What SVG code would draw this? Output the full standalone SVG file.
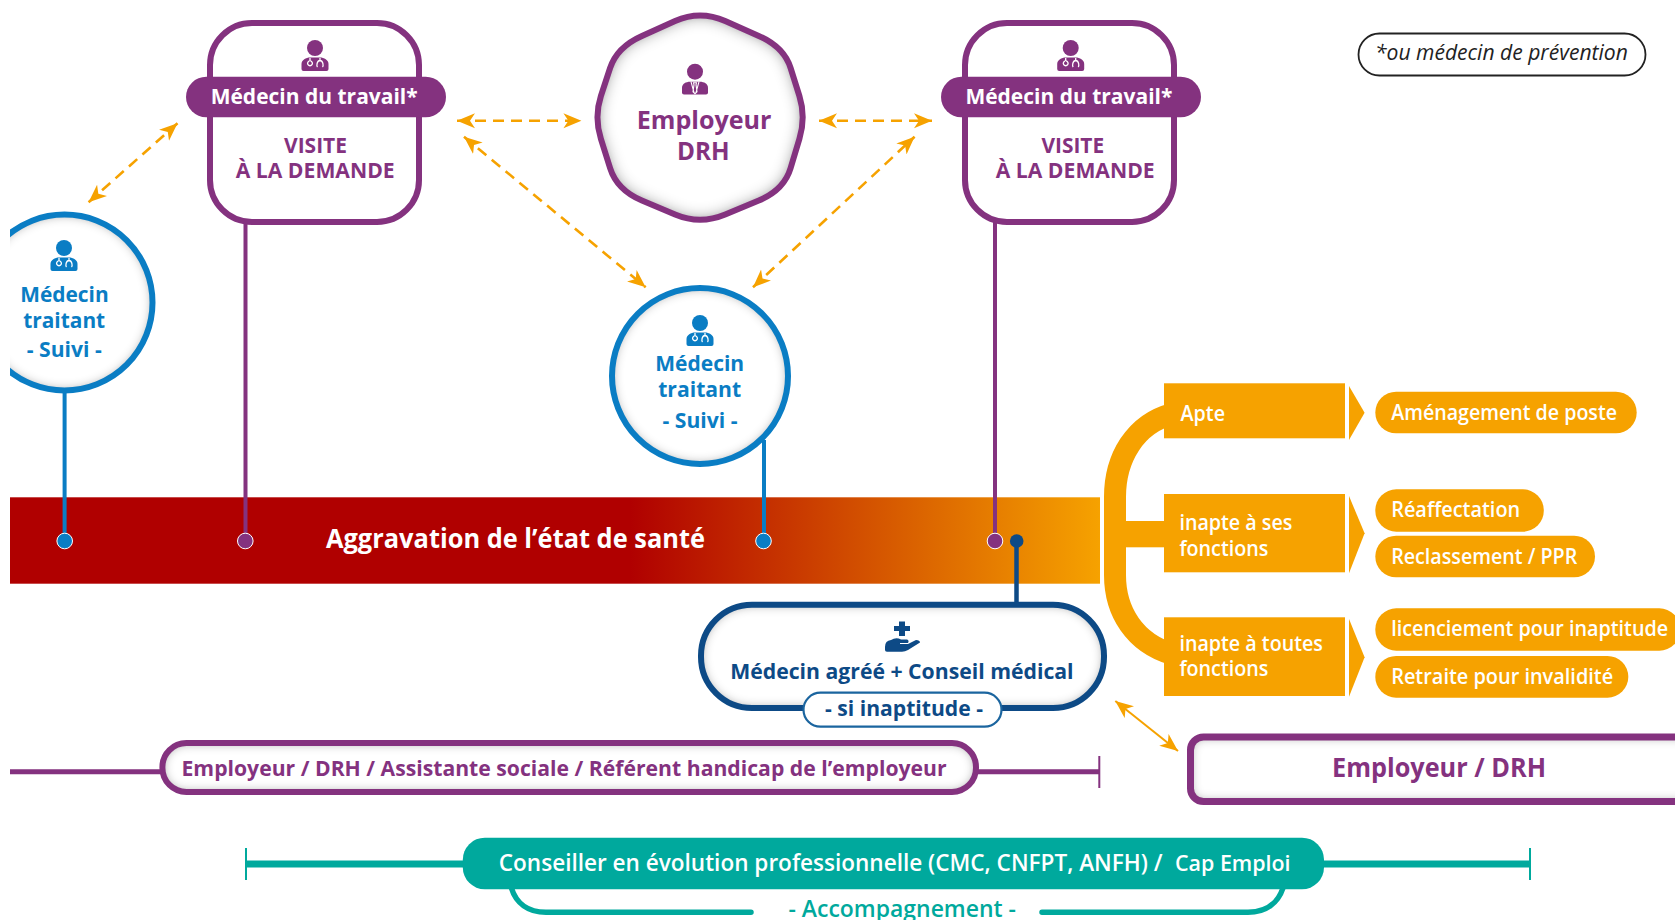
<svg xmlns="http://www.w3.org/2000/svg" xmlns:xlink="http://www.w3.org/1999/xlink" width="1675" height="920" viewBox="0 0 1675 920">
<style>
text{font-family:"Open Sans","Noto Sans","Liberation Sans",sans-serif;font-weight:700}
.w{fill:#fff}.p{fill:#84327f}.b{fill:#0a7dc4}.n{fill:#0d4a86}.t{fill:#00a99d}
.s{font-weight:600}
.fillw{fill:#fff;stroke:none;filter:url(#inner)}
.fillx{fill:#fff;stroke:none;filter:url(#inner2)}
.op{fill:none;stroke:#84327f;stroke-width:6}
.ob{fill:none;stroke:#0a7dc4;stroke-width:6}
.on{fill:none;stroke:#0d4a86;stroke-width:6}
.orange{fill:#f6a200}
.dash{fill:none;stroke:#f6a200;stroke-width:2.6;stroke-dasharray:11 7;marker-start:url(#ah);marker-end:url(#ah)}
.solid{fill:none;stroke:#f6a200;stroke-width:2;marker-start:url(#ah);marker-end:url(#ah)}
.dot{stroke:#fff;stroke-width:1}
</style>
<defs>
<marker id="ah" markerUnits="userSpaceOnUse" markerWidth="19" markerHeight="16" refX="18" refY="8" orient="auto-start-reverse">
<path d="M18,8 L0,0.5 L5,8 L0,15.5 Z" fill="#f6a200"/>
</marker>
<filter id="inner" x="-10%" y="-20%" width="120%" height="140%">
<feFlood flood-color="#333" flood-opacity=".9" result="f"/>
<feComposite in="f" in2="SourceAlpha" operator="out" result="o"/>
<feGaussianBlur in="o" stdDeviation="5.5" result="bl"/>
<feComposite in="bl" in2="SourceAlpha" operator="in" result="sh"/>
<feMerge><feMergeNode in="SourceGraphic"/><feMergeNode in="sh"/></feMerge>
</filter>
<filter id="inner2" x="-15%" y="-15%" width="130%" height="130%">
<feFlood flood-color="#222" flood-opacity="1" result="f"/>
<feComposite in="f" in2="SourceAlpha" operator="out" result="o"/>
<feGaussianBlur in="o" stdDeviation="8" result="bl"/>
<feComposite in="bl" in2="SourceAlpha" operator="in" result="sh"/>
<feMerge><feMergeNode in="SourceGraphic"/><feMergeNode in="sh"/></feMerge>
</filter>
<linearGradient id="bar" gradientUnits="userSpaceOnUse" x1="630" y1="0" x2="1100" y2="0">
<stop offset="0" stop-color="#b00000"/><stop offset="1" stop-color="#f6a200"/>
</linearGradient>
<clipPath id="cl"><rect x="10" y="180" width="200" height="260"/></clipPath>
<symbol id="doc" overflow="visible" viewBox="-14 -8 28 32" width="28" height="32">
<circle cx="0" cy="0" r="8"/>
<path d="M-13.5,21 V16 C-13.5,12 -9,9.5 -5,9.5 L5,9.5 C9,9.5 13.5,12 13.5,16 V21 Q13.5,23 11.5,23 H-11.5 Q-13.5,23 -13.5,21 Z"/>
<path d="M-5,10 V13 M-5.5,13 a2.4,2.4 0 1 0 1,0 M5,10 V12.5 C1.5,13 1.5,18 2.5,19 M5,12.5 C8.5,13 8.5,18 7.5,19" fill="none" stroke="#fff" stroke-width="1.3"/>
</symbol>
<symbol id="boss" overflow="visible" viewBox="-14 -8 28 32" width="28" height="32">
<circle cx="0" cy="0" r="8"/>
<path d="M-13,21 V16 C-13,12 -9,10 -5,10 L5,10 C9,10 13,12 13,16 V21 Q13,22.7 11,22.7 H-11 Q-13,22.7 -13,21 Z"/>
<path d="M-4,10 L-1,21 M4,10 L1,21 M-1.5,11 H1.5 L1,13 L2,20 L0,22 L-2,20 L-1,13 Z" fill="none" stroke="#fff" stroke-width="1.1"/>
</symbol>
</defs>

<rect id="sante-bar" x="10" y="497.3" width="1090" height="86.4" fill="url(#bar)"/>

<g id="connectors">
<path class="dash" d="M88.6,202.3 L177.5,123.3"/>
<path class="dash" d="M457,120.7 H581.4"/>
<path class="dash" d="M464,136.7 L645.7,287.3"/>
<path class="dash" d="M819,120.7 H932"/>
<path class="dash" d="M753,287.3 L914.6,136.7"/>
<path class="solid" d="M1115.3,701 L1178,751"/>
<path d="M64.6,390 V541" stroke="#0a7dc4" stroke-width="4" fill="none"/>
<path d="M245.5,222 V541" stroke="#84327f" stroke-width="4" fill="none"/>
<path d="M764,440 V541" stroke="#0a7dc4" stroke-width="4" fill="none"/>
<path d="M995,222 V541" stroke="#84327f" stroke-width="4" fill="none"/>
<path d="M1016.5,541 V606" stroke="#0d4a86" stroke-width="4.5" fill="none"/>
<circle class="dot b" cx="64.7" cy="541" r="7.8"/>
<circle class="dot p" cx="245.3" cy="541" r="7.8"/>
<circle class="dot b" cx="763.5" cy="541" r="7.8"/>
<circle class="dot p" cx="995" cy="541" r="7.8"/>
<circle cx="1016.7" cy="541" r="6.8" class="n"/>
<path d="M1172,414 C1135,424 1115,458 1115,497 V575 C1115,612 1135,643 1172,654" fill="none" stroke="#f6a200" stroke-width="22"/>
<rect x="1115" y="521" width="50" height="26.3" class="orange"/>
<path d="M10,771.7 H162 M977,771.7 H1099" stroke="#84327f" stroke-width="5" fill="none"/>
<path d="M1099.3,756 V788" stroke="#84327f" stroke-width="2" fill="none"/>
<path d="M246,864 H464 M1323,864 H1530" stroke="#00a99d" stroke-width="7" fill="none"/>
<path d="M246,848 V880 M1530,848 V880" stroke="#00a99d" stroke-width="2" fill="none"/>
<path d="M511.4,888 C516,903 528,912.3 546,912.3 H751 M1283,888 C1278,903 1266,912.3 1248,912.3 H1042" stroke="#00a99d" stroke-width="5.5" stroke-linecap="round" fill="none"/>
</g>

<g id="medecin-travail-gauche">
<rect x="210" y="23" width="209" height="199" rx="42" class="op" style="fill:#fff"/>
<rect x="186" y="76.7" width="260" height="40.6" rx="20.3" class="p"/>
<use href="#doc" x="301" y="40" class="p"/>
<text class="w" x="210.7" y="103.5" font-size="21" textLength="207" lengthAdjust="spacingAndGlyphs">Médecin du travail*</text>
<text class="p" x="284" y="153" font-size="21.5" textLength="63" lengthAdjust="spacingAndGlyphs">VISITE</text>
<text class="p" x="235.7" y="178" font-size="21.5" textLength="159" lengthAdjust="spacingAndGlyphs">À LA DEMANDE</text>
</g>

<g id="medecin-travail-droite">
<rect x="965" y="23" width="209" height="199" rx="42" class="op" style="fill:#fff"/>
<rect x="941" y="76.7" width="260" height="40.6" rx="20.3" class="p"/>
<use href="#doc" x="1056.7" y="40" class="p"/>
<text class="w" x="965.4" y="103.5" font-size="21" textLength="207" lengthAdjust="spacingAndGlyphs">Médecin du travail*</text>
<text class="p" x="1041.4" y="153" font-size="21.5" textLength="62.7" lengthAdjust="spacingAndGlyphs">VISITE</text>
<text class="p" x="995.7" y="178" font-size="21.5" textLength="159" lengthAdjust="spacingAndGlyphs">À LA DEMANDE</text>
</g>

<g id="employeur-drh">
<path class="fillx" d="M675.1,21.1 Q700,10 725.2,21.1 L758.8,35.9 Q784,47 790.6,68 L799.4,96 Q806,117 799.4,138.9 L790.6,168.1 Q784,190 758.8,200.5 L725.2,214.5 Q700,225 675.1,214.5 L641.9,200.5 Q617,190 610.1,168.1 L600.9,138.9 Q594,117 600.9,96 L610.1,68 Q617,47 641.9,35.9 Z"/>
<path class="op" d="M675.1,21.1 Q700,10 725.2,21.1 L758.8,35.9 Q784,47 790.6,68 L799.4,96 Q806,117 799.4,138.9 L790.6,168.1 Q784,190 758.8,200.5 L725.2,214.5 Q700,225 675.1,214.5 L641.9,200.5 Q617,190 610.1,168.1 L600.9,138.9 Q594,117 600.9,96 L610.1,68 Q617,47 641.9,35.9 Z"/>
<use href="#boss" x="681" y="63.7" class="p"/>
<text class="p" x="636.8" y="129" font-size="25" textLength="134.6" lengthAdjust="spacingAndGlyphs">Employeur</text>
<text class="p" x="677" y="159.5" font-size="25" textLength="52.6" lengthAdjust="spacingAndGlyphs">DRH</text>
</g>

<g id="medecin-traitant-gauche" clip-path="url(#cl)">
<circle class="fillw" cx="64.5" cy="302.5" r="88"/>
<circle class="ob" cx="64.5" cy="302.5" r="88"/>
<use href="#doc" x="50" y="240" class="b"/>
<text class="b" x="20.2" y="301.7" font-size="21" textLength="88.5" lengthAdjust="spacingAndGlyphs">Médecin</text>
<text class="b" x="23.2" y="328" font-size="21" textLength="82" lengthAdjust="spacingAndGlyphs">traitant</text>
<text class="b" x="26.8" y="356.7" font-size="21" textLength="75" lengthAdjust="spacingAndGlyphs">- Suivi -</text>
</g>

<g id="medecin-traitant-centre">
<circle class="fillw" cx="700" cy="376" r="88"/>
<circle class="ob" cx="700" cy="376" r="88"/>
<use href="#doc" x="686" y="315" class="b"/>
<text class="b" x="655.2" y="371" font-size="21" textLength="89" lengthAdjust="spacingAndGlyphs">Médecin</text>
<text class="b" x="658.2" y="397" font-size="21" textLength="83" lengthAdjust="spacingAndGlyphs">traitant</text>
<text class="b" x="662.5" y="428.4" font-size="21" textLength="75" lengthAdjust="spacingAndGlyphs">- Suivi -</text>
</g>

<g id="note">
<rect x="1358.5" y="33.5" width="287" height="42" rx="21" fill="#fff" stroke="#222" stroke-width="1.8"/>
<text x="1375" y="60" font-size="21" fill="#222" style="font-style:italic;font-weight:400" textLength="252.8" lengthAdjust="spacingAndGlyphs">*ou médecin de prévention</text>
</g>

<g id="medecin-agree">
<rect class="fillw" x="701" y="604.7" width="403" height="103.3" rx="51"/>
<rect class="on" x="701" y="604.7" width="403" height="103.3" rx="51"/>
<path class="n" d="M899,621.5 H905 V626 H910 V631 H905 V636 H899 V631 H894 V626 H899 Z"/>
<path class="n" d="M885,647 Q885,640.5 891,640 Q896,637 901,639.5 H907 Q909.5,640.5 908,643 H900 L900,644 H908 L916,640 Q920,640 920,642.5 L908,650 Q905,651.7 902,651.7 H887 Q885,651.7 885,650 Z"/>
<text class="n" x="730.2" y="679" font-size="22" textLength="343.4" lengthAdjust="spacingAndGlyphs">Médecin agréé + Conseil médical</text>
<rect x="803.5" y="692.7" width="198" height="34" rx="17" fill="#fff" stroke="#1b659f" stroke-width="2.2"/>
<text class="n" x="825" y="715.5" font-size="22" textLength="158" lengthAdjust="spacingAndGlyphs">- si inaptitude -</text>
</g>

<g id="orientation" class="s">
<rect class="orange" x="1164" y="383.3" width="181" height="55"/>
<path class="orange" d="M1349,386 L1364.6,412.7 L1349,440 Z"/>
<text class="w s" x="1180.6" y="421" font-size="21" textLength="44.4" lengthAdjust="spacingAndGlyphs">Apte</text>
<rect class="orange" x="1164" y="494" width="181" height="78.3"/>
<path class="orange" d="M1349,496 L1364.6,533.3 L1349,573.3 Z"/>
<text class="w s" x="1179.4" y="530" font-size="21" textLength="113" lengthAdjust="spacingAndGlyphs">inapte à ses</text>
<text class="w s" x="1179.4" y="555.6" font-size="21" textLength="89" lengthAdjust="spacingAndGlyphs">fonctions</text>
<rect class="orange" x="1164" y="617.3" width="181" height="78.7"/>
<path class="orange" d="M1349,619 L1364.6,657.3 L1349,696.7 Z"/>
<text class="w s" x="1179.4" y="650.5" font-size="21" textLength="143.5" lengthAdjust="spacingAndGlyphs">inapte à toutes</text>
<text class="w s" x="1179.4" y="675.6" font-size="21" textLength="89" lengthAdjust="spacingAndGlyphs">fonctions</text>
</g>

<g id="amenagement">
<rect class="orange" x="1375.3" y="391.7" width="261.4" height="41.6" rx="20.8"/>
<text class="w s" x="1391.2" y="419.6" font-size="21" textLength="225.8" lengthAdjust="spacingAndGlyphs">Aménagement de poste</text>
</g>
<g id="reaffectation">
<rect class="orange" x="1375.3" y="489.3" width="168.5" height="42.4" rx="21"/>
<text class="w s" x="1391.2" y="517.3" font-size="21" textLength="129" lengthAdjust="spacingAndGlyphs">Réaffectation</text>
</g>
<g id="reclassement">
<rect class="orange" x="1375.3" y="535.7" width="219.7" height="41.6" rx="20.8"/>
<text class="w s" x="1391.2" y="563.5" font-size="21" textLength="186" lengthAdjust="spacingAndGlyphs">Reclassement / PPR</text>
</g>
<g id="licenciement">
<rect class="orange" x="1375.3" y="608.3" width="305" height="42.4" rx="21"/>
<text class="w s" x="1391.2" y="635.6" font-size="21" textLength="277" lengthAdjust="spacingAndGlyphs">licenciement pour inaptitude</text>
</g>
<g id="retraite">
<rect class="orange" x="1375.3" y="656" width="253" height="41.7" rx="20.8"/>
<text class="w s" x="1391.2" y="684" font-size="21" textLength="222" lengthAdjust="spacingAndGlyphs">Retraite pour invalidité</text>
</g>

<g id="employeur-drh-bas">
<rect class="fillw" x="1190.5" y="737" width="520" height="64.5" rx="13"/>
<rect x="1190.5" y="737" width="520" height="64.5" rx="13" fill="none" stroke="#84327f" stroke-width="7"/>
<text class="p" x="1332" y="776.5" font-size="27" textLength="214" lengthAdjust="spacingAndGlyphs">Employeur / DRH</text>
</g>

<g id="acteurs-employeur">
<rect class="fillw" x="162.4" y="743" width="813.6" height="49" rx="24"/>
<rect class="op" x="162.4" y="743" width="813.6" height="49" rx="24"/>
<text class="p" x="181.5" y="776" font-size="21" textLength="765.1" lengthAdjust="spacingAndGlyphs">Employeur / DRH / Assistante sociale / Référent handicap de l’employeur</text>
</g>

<g id="sante-label">
<text class="w" x="326" y="547.7" font-size="26" textLength="379" lengthAdjust="spacingAndGlyphs">Aggravation de l’état de santé</text>
</g>

<g id="conseiller">
<rect x="462.8" y="837.7" width="861.2" height="51.6" rx="22" class="t"/>
<text class="w s" x="498.8" y="870.7" font-size="24" textLength="663.7" lengthAdjust="spacingAndGlyphs">Conseiller en évolution professionnelle (CMC, CNFPT, ANFH) /</text>
<text class="w s" x="1175" y="870.7" font-size="21" textLength="115.6" lengthAdjust="spacingAndGlyphs">Cap Emploi</text>
<text class="t s" x="788.5" y="917" font-size="24" textLength="227.5" lengthAdjust="spacingAndGlyphs">- Accompagnement -</text>
</g>
</svg>
